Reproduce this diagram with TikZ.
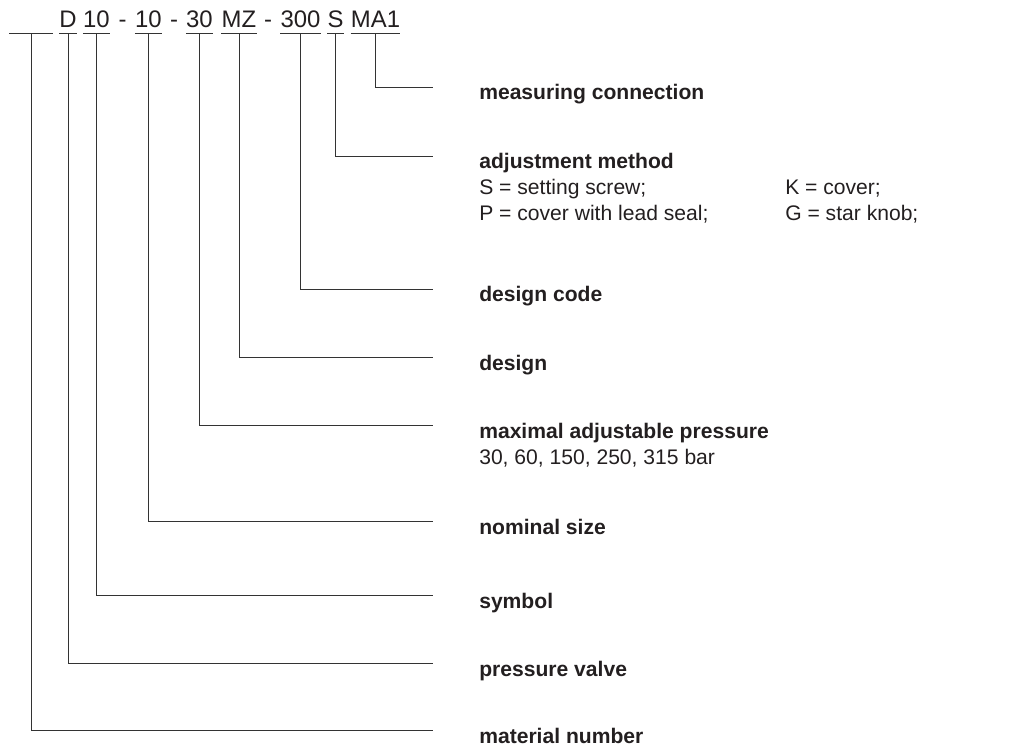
\documentclass[tikz,border=0pt]{standalone}
\usepackage{fontspec}
\setmainfont{Liberation Sans}
\usetikzlibrary{positioning}
\definecolor{ink}{HTML}{231F20}
\definecolor{wirecol}{HTML}{333333}
\tikzset{
  code/.style={anchor=base, inner xsep=0pt, inner ysep=0pt, text depth=0.125cm,
    font=\fontsize{17}{20}\selectfont, text=ink},
  title/.style={anchor=base west, inner sep=0pt, font=\fontsize{15}{18}\selectfont\bfseries, text=ink},
  sub/.style={anchor=base west, inner sep=0pt, font=\fontsize{15}{18}\selectfont, text=ink},
  wire/.style={draw=wirecol, line width=0.7pt},
}

\begin{document}
\begin{tikzpicture}[x=0.025cm, y=-0.025cm]
	\useasboundingbox (0,0) rectangle (1020,748);
	% type code
	\node[code, minimum width=1.075cm] (tb) at (31,28) {\phantom{D}};
	\node[code] (tD) at (68,28) {D};
	\node[code] (t10a) at (96.5,28) {10};
	\node[code] (s1) at (122.5,28) {-};
	\node[code] (t10b) at (148.5,28) {10};
	\node[code] (s2) at (174,28) {-};
	\node[code] (t30) at (199.5,28) {30};
	\node[code] (tMZ) at (239,28) {MZ};
	\node[code] (s3) at (268,28) {-};
	\node[code] (t300) at (300.5,28) {300};
	\node[code] (tS) at (335.5,28) {S};
	\node[code] (tMA1) at (375.5,28) {MA1};
	\foreach \t in {tb,tD,t10a,t10b,t30,tMZ,t300,tS,tMA1}
		\draw[wire] (\t.south west) -- (\t.south east);
	% line ends
	\coordinate (emc) at (433,87);
	\coordinate (eam) at (433,156);
	\coordinate (edc) at (433,289);
	\coordinate (ede) at (433,357);
	\coordinate (emp) at (433,425);
	\coordinate (ens) at (433,521);
	\coordinate (esy) at (433,595);
	\coordinate (epv) at (433,663);
	\coordinate (emn) at (433,730);
	% explanations
	\node[title] (mc) at (479,100) {measuring connection};
	\node[title] (am) at (479,169) {adjustment method};
	\node[sub] (am1) at (479,195) {S = setting screw;};
	\node[sub] (am2) at (479,221) {P = cover with lead seal;};
	\node[sub] (am3) at (785,195) {K = cover;};
	\node[sub] (am4) at (785,221) {G = star knob;};
	\node[title] (dc) at (479,302) {design code};
	\node[title] (de) at (479,370) {design};
	\node[title] (mp) at (479,438) {maximal adjustable pressure};
	\node[sub] (mp1) at (479,464) {30, 60, 150, 250, 315 bar};
	\node[title] (ns) at (479,534) {nominal size};
	\node[title] (sy) at (479,608) {symbol};
	\node[title] (pv) at (479,676) {pressure valve};
	\node[title] (mn) at (479,743) {material number};
	% leaders
	\draw[wire] (tMA1.south) |- (emc);
	\draw[wire] (tS.south) |- (eam);
	\draw[wire] (t300.south) |- (edc);
	\draw[wire] (tMZ.south) |- (ede);
	\draw[wire] (t30.south) |- (emp);
	\draw[wire] (t10b.south) |- (ens);
	\draw[wire] (t10a.south) |- (esy);
	\draw[wire] (tD.south) |- (epv);
	\draw[wire] (tb.south) |- (emn);
\end{tikzpicture}
\end{document}
